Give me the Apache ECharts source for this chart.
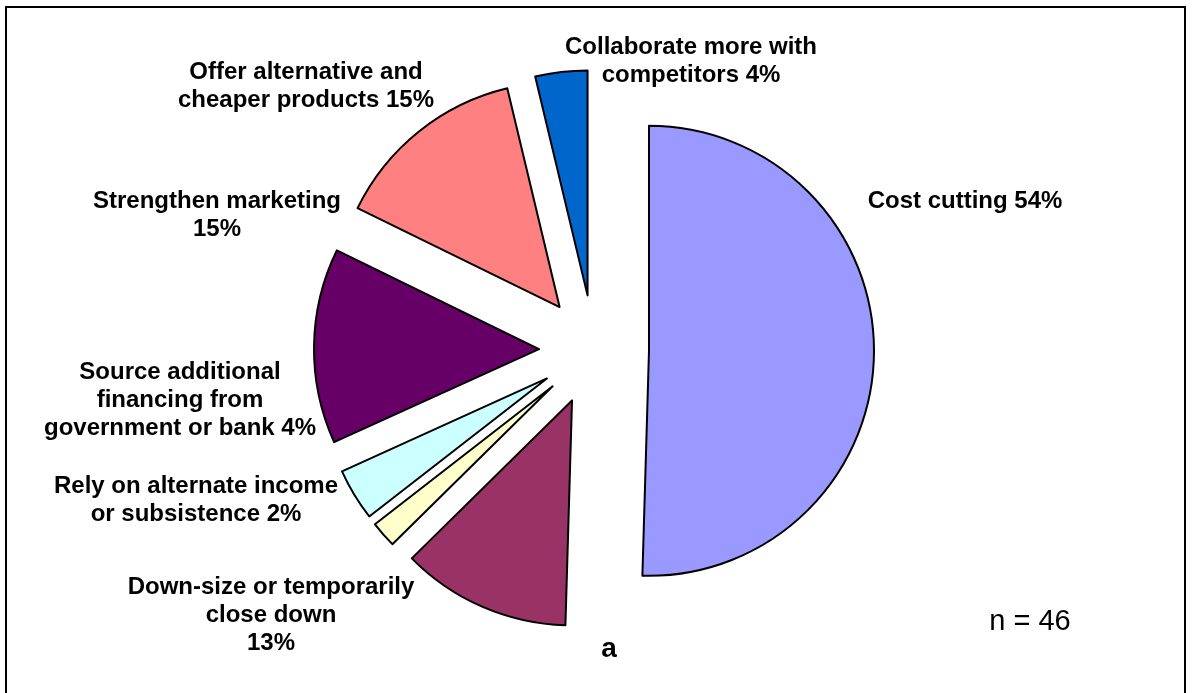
<!DOCTYPE html>
<html>
<head>
<meta charset="utf-8">
<script src="https://cdn.jsdelivr.net/npm/echarts@6/dist/echarts.min.js"></script>
<style>
  html, body { margin: 0; padding: 0; background: #ffffff; }
  #chart { width: 1192px; height: 693px; }
</style>
</head>
<body>
<div id="chart"></div>
<script>
// Responses, clockwise from 12 o'clock
const categories = [
  'Cost cutting',
  'Down-size or temporarily\nclose down',
  'Rely on alternate income\nor subsistence',
  'Source additional\nfinancing from\ngovernment or bank',
  'Strengthen marketing',
  'Offer alternative and\ncheaper products',
  'Collaborate more with\ncompetitors'
];
// Share of respondents, percent
const shares = [54, 13, 2, 4, 15, 15, 4];
// Text placed between the category name and its percentage
const valueSeparators = [' ', '\n', ' ', ' ', '\n', ' ', ' '];
const sampleNote = 'n = 46';
const panelLetter = 'a';

const sliceColors = ['#9999FF', '#993366', '#FFFFCC', '#CCFFFF', '#660066', '#FF8080', '#0066CC'];

// Label block centres (px), one per category
const labelCentres = [
  [965, 201],
  [271, 615],
  [196, 500],
  [180, 400],
  [217, 215],
  [306, 86],
  [691, 61]
];

const labelFont = 'bold 24px "Liberation Sans", Arial, sans-serif';

const chart = echarts.init(document.getElementById('chart'), null, { renderer: 'canvas' });

const seriesData = categories.map((name, i) => ({
  name: name,
  value: shares[i],
  selected: true,
  itemStyle: { color: sliceColors[i] }
}));

// Category labels: name followed by the slice's own value
const labelTexts = categories.map((name, i) => ({
  type: 'text',
  x: labelCentres[i][0],
  y: labelCentres[i][1],
  silent: true,
  style: {
    text: name + valueSeparators[i] + shares[i] + '%',
    fill: '#000000',
    font: labelFont,
    lineHeight: 28,
    textAlign: 'center',
    textVerticalAlign: 'middle'
  }
}));

chart.setOption({
  animation: false,
  backgroundColor: '#ffffff',
  series: [{
    type: 'pie',
    center: [594, 350],
    radius: [0, 225],
    startAngle: 90,
    clockwise: true,
    selectedMode: 'multiple',
    selectedOffset: 55,
    data: seriesData,
    itemStyle: { borderColor: '#000000', borderWidth: 2 },
    emphasis: { disabled: true },
    label: { show: false },
    labelLine: { show: false }
  }],
  graphic: [
    {
      type: 'rect',
      shape: { x: 6, y: 7, width: 1179, height: 700 },
      style: { fill: 'none', stroke: '#000000', lineWidth: 2 },
      silent: true
    },
    ...labelTexts,
    {
      type: 'text',
      x: 1030, y: 622,
      silent: true,
      style: {
        text: sampleNote,
        fill: '#000000',
        font: '29px "Liberation Sans", Arial, sans-serif',
        textAlign: 'center',
        textVerticalAlign: 'middle'
      }
    },
    {
      type: 'text',
      x: 609, y: 649,
      silent: true,
      style: {
        text: panelLetter,
        fill: '#000000',
        font: 'bold 28px "Liberation Sans", Arial, sans-serif',
        textAlign: 'center',
        textVerticalAlign: 'middle'
      }
    }
  ]
});
</script>
</body>
</html>
